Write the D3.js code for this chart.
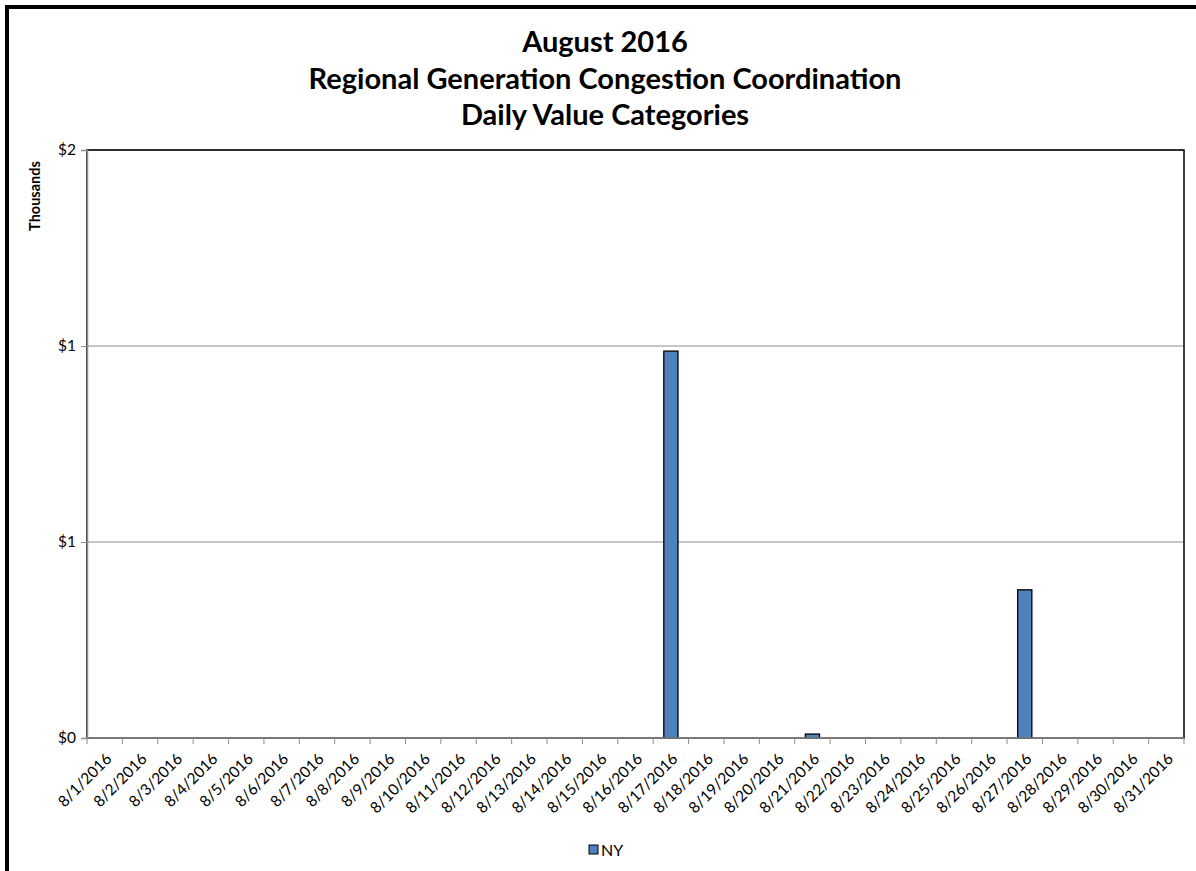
<!DOCTYPE html>
<html><head><meta charset="utf-8">
<script src="https://cdn.jsdelivr.net/npm/d3@7"></script>
<style>body{margin:0;background:#fff}svg{display:block}text{font-family:Lato,"Open Sans",sans-serif}</style>
</head><body>
<svg id="c" width="1196" height="871"></svg>
<script>
const titleLines = ["August 2016","Regional Generation  Congestion Coordination","Daily Value Categories"];
const categories = Array.from({length:31},(_, i)=>`8/${i+1}/2016`);
const seriesName = "NY";
const nyValues = [0,0,0,0,0,0,0,0,0,0,0,0,0,0,0,0,0.987,0,0,0,0.01,0,0,0,0,0,0.378,0,0,0,0];
const yTicks = [0,0.5,1,1.5];
const yTickLabels = ["$0","$1","$1","$2"];
const yAxisTitle = "Thousands";

const svg = d3.select("#c");
const m = {l:87, t:150, r:1184, b:738};
svg.append("path").attr("d","M7,871V7H1196").attr("fill","none").attr("stroke","#000").attr("stroke-width",4);

const x = d3.scaleBand().domain(categories).range([m.l,m.r]).paddingInner(0.6).paddingOuter(0.3);
const xc = d3.scaleBand().domain(categories).range([m.l,m.r]);
const y = d3.scaleLinear().domain([0,1.5]).range([m.b,m.t]);

// title
const t = svg.append("text").attr("text-anchor","middle").attr("font-weight","bold").attr("font-size",29).attr("fill","#000");
titleLines.forEach((s,i)=>t.append("tspan").attr("x",605).attr("y",52+i*36.5).text(s));

// gridlines
svg.append("g").selectAll("line").data(yTicks.slice(1)).join("line")
  .attr("x1",m.l).attr("x2",m.r).attr("y1",d=>y(d)).attr("y2",d=>y(d)).attr("stroke","#8c8c8c").attr("stroke-width",1);

// plot border
svg.append("rect").attr("x",m.l).attr("y",m.t).attr("width",m.r-m.l).attr("height",m.b-m.t).attr("fill","none").attr("stroke","#000").attr("stroke-width",1.5);

// bars
svg.append("g").selectAll("rect").data(nyValues).join("rect")
  .attr("x",(d,i)=>x(categories[i])).attr("width",x.bandwidth())
  .attr("y",d=>y(d)).attr("height",d=>y(0)-y(d))
  .attr("fill","#4f81bd").attr("stroke","#000").attr("stroke-width",1.3)
  .style("display",d=>d>0?null:"none");

// y axis
const ya = svg.append("g").attr("transform",`translate(${m.l},0)`)
  .call(d3.axisLeft(y).tickValues(yTicks).tickFormat((d,i)=>yTickLabels[i]).tickSize(6).tickPadding(5));
ya.select(".domain").attr("stroke","#8c8c8c").attr("stroke-width",1.5);
ya.selectAll(".tick line").attr("stroke","#8c8c8c");
ya.selectAll("text").attr("font-size",15.5).attr("fill","#000").attr("font-family","Lato,sans-serif");

// x axis line and ticks
const xa = svg.append("g");
xa.append("line").attr("x1",m.l).attr("x2",m.r).attr("y1",m.b).attr("y2",m.b).attr("stroke","#8c8c8c").attr("stroke-width",1.5);
const edges = categories.map(c=>xc(c)).concat([m.r]);
xa.selectAll("line.tk").data(edges).join("line").attr("class","tk")
  .attr("x1",d=>d).attr("x2",d=>d).attr("y1",m.b).attr("y2",m.b+6).attr("stroke","#8c8c8c");
xa.selectAll("text").data(categories).join("text")
  .attr("transform",d=>`translate(${xc(d)+xc.bandwidth()/2+4},${m.b+18}) rotate(-45)`)
  .attr("text-anchor","end").attr("dy","0.35em").attr("font-size",15.5).attr("fill","#000").text(d=>d);

// y axis title
svg.append("text").attr("transform","translate(40,196) rotate(-90)").attr("text-anchor","middle")
  .attr("font-weight","bold").attr("font-size",14.5).text(yAxisTitle);

// legend
svg.append("rect").attr("x",589).attr("y",845).attr("width",9).attr("height",9).attr("fill","#4f81bd").attr("stroke","#000").attr("stroke-width",1);
svg.append("text").attr("x",601).attr("y",856).attr("font-size",16).text(seriesName);
</script>
</body></html>
